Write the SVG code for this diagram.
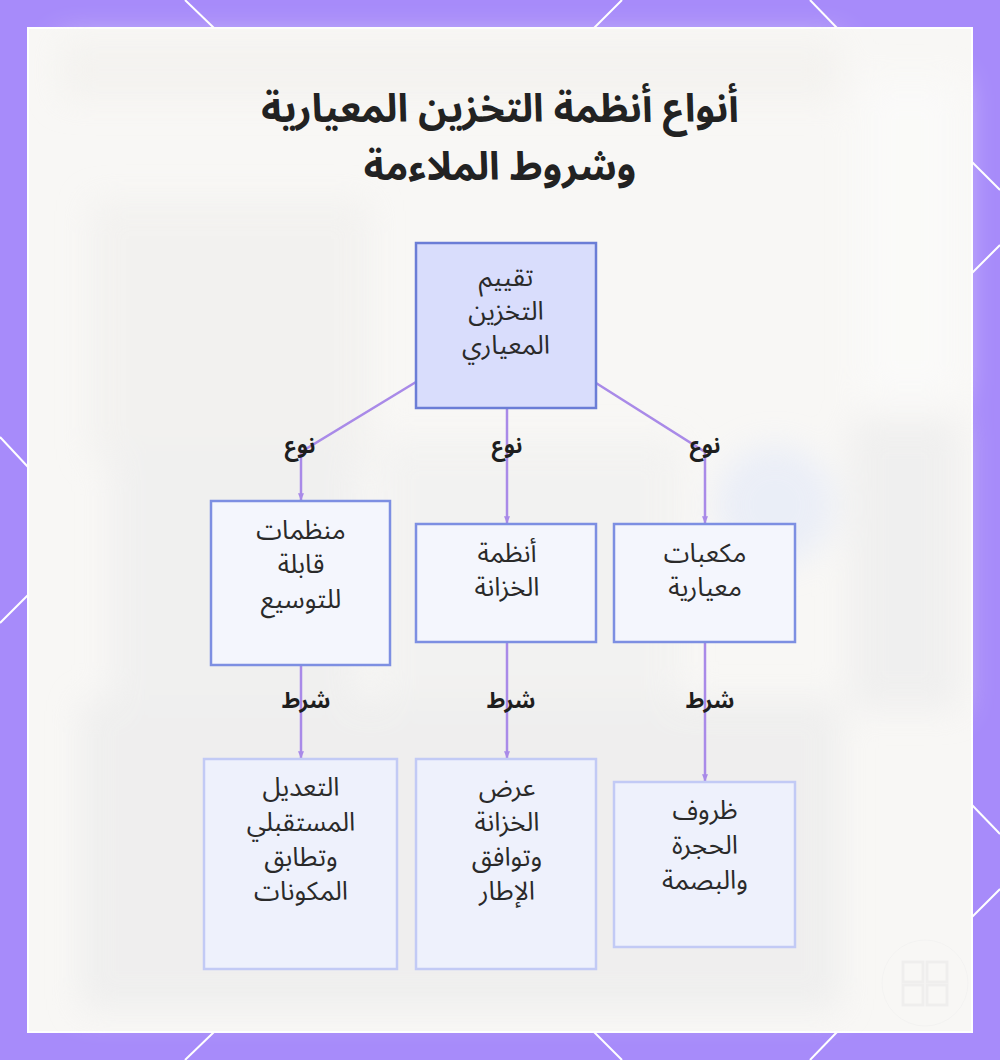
<svg xmlns="http://www.w3.org/2000/svg" width="1000" height="1060" viewBox="0 0 1000 1060">
  <defs>
    <filter id="blur" x="-20%" y="-20%" width="140%" height="140%">
      <feGaussianBlur stdDeviation="16"/>
    </filter>
    <marker id="arrow" viewBox="0 0 10 10" refX="9" refY="5" markerWidth="3" markerHeight="3" orient="auto">
      <path d="M0,1 L10,5 L0,9 z" fill="#a98ae8"/>
    </marker>
    <style>
      .frame { fill: #a78bfa; }
      .hex { stroke: #ffffff; stroke-width: 2; fill: none; }
      .title { font-family: "Noto Sans Arabic", "DejaVu Sans", sans-serif; font-weight: bold; font-size: 39px; fill: #222222; text-anchor: middle; direction: rtl; }
      .lbl { font-family: "Noto Sans Arabic", "DejaVu Sans", sans-serif; font-size: 26px; fill: #2a2a2a; text-anchor: middle; direction: rtl; }
      .edge-lbl { font-family: "Noto Sans Arabic", "DejaVu Sans", sans-serif; font-weight: bold; font-size: 22px; fill: #1e1e1e; text-anchor: middle; direction: rtl; }
      .root { fill: #d9ddfc; stroke: #6b7dd6; stroke-width: 2.5; }
      .mid { fill: #f4f6fd; stroke: #7d8fe2; stroke-width: 2.5; }
      .leaf { fill: #eef1fc; stroke: #c2caf5; stroke-width: 2.5; }
      .edge { stroke: #a98ae8; stroke-width: 2.5; fill: none; marker-end: url(#arrow); }
    </style>
  </defs>

  <!-- frame -->
  <rect class="frame" x="0" y="0" width="1000" height="1060"/>
  <g id="frame-lines">
    <line class="hex" x1="185" y1="0" x2="214" y2="28"/>
    <line class="hex" x1="622" y1="0" x2="594" y2="28"/>
    <line class="hex" x1="810" y1="0" x2="837" y2="28"/>
    <line class="hex" x1="214" y1="1032" x2="185" y2="1060"/>
    <line class="hex" x1="594" y1="1032" x2="622" y2="1060"/>
    <line class="hex" x1="837" y1="1032" x2="810" y2="1060"/>
    <line class="hex" x1="0" y1="437" x2="28" y2="467"/>
    <line class="hex" x1="28" y1="595" x2="0" y2="623"/>
    <line class="hex" x1="972" y1="162" x2="1000" y2="190"/>
    <line class="hex" x1="1000" y1="245" x2="972" y2="273"/>
    <line class="hex" x1="972" y1="805" x2="1000" y2="834"/>
    <line class="hex" x1="1000" y1="889" x2="972" y2="917"/>
  </g>

  <!-- panel -->
  <rect x="28" y="28" width="944" height="1004" fill="#f8f7f5" stroke="#ffffff" stroke-width="2"/>
  <g id="panel-bg" filter="url(#blur)" opacity="0.75">
    <rect x="60" y="40" width="780" height="60" fill="#f3f1ee"/>
    <rect x="90" y="200" width="280" height="260" fill="#f1f0ee"/>
    <rect x="110" y="440" width="250" height="260" fill="#eeeeee"/>
    <rect x="380" y="440" width="300" height="260" fill="#f1f1f0"/>
    <rect x="80" y="700" width="760" height="310" fill="#ececec"/>
    <rect x="850" y="420" width="110" height="290" fill="#ededed"/>
    <rect x="860" y="80" width="100" height="320" fill="#fbfbfa"/>
    <circle cx="775" cy="505" r="60" fill="#e6ebf8"/>
  </g>
  <g id="watermark" opacity="0.4">
    <circle cx="925" cy="983" r="43" fill="none" stroke="#ececec" stroke-width="1"/>
    <rect x="903" y="962" width="20" height="20" fill="none" stroke="#e3e3e3" stroke-width="3"/>
    <rect x="927" y="962" width="20" height="20" fill="none" stroke="#e3e3e3" stroke-width="3"/>
    <rect x="903" y="985" width="20" height="20" fill="none" stroke="#e3e3e3" stroke-width="3"/>
    <rect x="927" y="985" width="20" height="20" fill="none" stroke="#e3e3e3" stroke-width="3"/>
  </g>

  <!-- title -->
  <g id="title">
    <text class="title" x="500" y="122">أنواع أنظمة التخزين المعيارية</text>
    <text class="title" x="500" y="180">وشروط الملاءمة</text>
  </g>

  <!-- connectors -->
  <g id="connectors">
    <polyline class="edge" points="416,382 301,452 301,500"/>
    <polyline class="edge" points="507,408 507,523"/>
    <polyline class="edge" points="596,383 705,452 705,523"/>
    <polyline class="edge" points="301,665 301,758"/>
    <polyline class="edge" points="507,642 507,758"/>
    <polyline class="edge" points="705,642 705,781"/>
    <text class="edge-lbl" x="300" y="453">نوع</text>
    <text class="edge-lbl" x="507" y="453">نوع</text>
    <text class="edge-lbl" x="705" y="453">نوع</text>
    <text class="edge-lbl" x="306" y="708">شرط</text>
    <text class="edge-lbl" x="511" y="708">شرط</text>
    <text class="edge-lbl" x="710" y="708">شرط</text>
  </g>

  <!-- nodes -->
  <g id="node-root">
    <rect class="root" x="416" y="243" width="180" height="165"/>
    <text class="lbl" x="506" y="286">تقييم</text>
    <text class="lbl" x="506" y="320">التخزين</text>
    <text class="lbl" x="506" y="354">المعياري</text>
  </g>
  <g id="node-expandable">
    <rect class="mid" x="211" y="501" width="179" height="164"/>
    <text class="lbl" x="301" y="539">منظمات</text>
    <text class="lbl" x="301" y="573">قابلة</text>
    <text class="lbl" x="301" y="608">للتوسيع</text>
  </g>
  <g id="node-wardrobe">
    <rect class="mid" x="416" y="524" width="180" height="118"/>
    <text class="lbl" x="507" y="562">أنظمة</text>
    <text class="lbl" x="507" y="596">الخزانة</text>
  </g>
  <g id="node-cubes">
    <rect class="mid" x="614" y="524" width="181" height="118"/>
    <text class="lbl" x="705" y="562">مكعبات</text>
    <text class="lbl" x="705" y="596">معيارية</text>
  </g>
  <g id="node-future">
    <rect class="leaf" x="204" y="759" width="193" height="210"/>
    <text class="lbl" x="301" y="796">التعديل</text>
    <text class="lbl" x="301" y="831">المستقبلي</text>
    <text class="lbl" x="301" y="866">وتطابق</text>
    <text class="lbl" x="301" y="900">المكونات</text>
  </g>
  <g id="node-width">
    <rect class="leaf" x="416" y="759" width="180" height="210"/>
    <text class="lbl" x="507" y="796">عرض</text>
    <text class="lbl" x="507" y="831">الخزانة</text>
    <text class="lbl" x="507" y="866">وتوافق</text>
    <text class="lbl" x="507" y="900">الإطار</text>
  </g>
  <g id="node-room">
    <rect class="leaf" x="614" y="782" width="181" height="165"/>
    <text class="lbl" x="705" y="819">ظروف</text>
    <text class="lbl" x="705" y="854">الحجرة</text>
    <text class="lbl" x="705" y="889">والبصمة</text>
  </g>
</svg>
